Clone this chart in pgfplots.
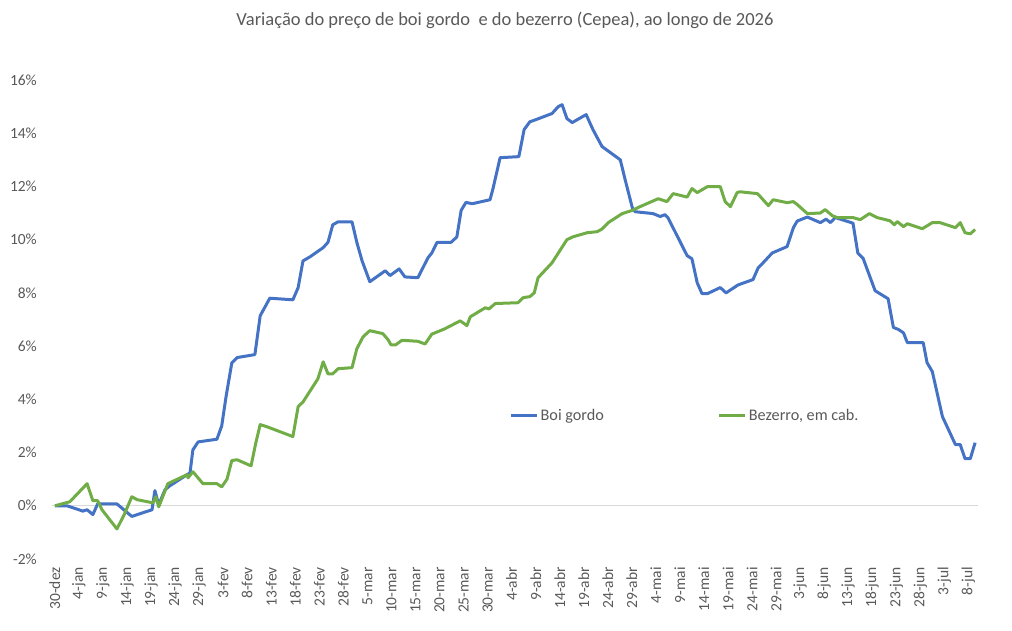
\documentclass[border=0pt]{standalone}
\usepackage{fontspec}
\setmainfont{Carlito}
\usepackage{pgfplots}
\pgfplotsset{compat=1.18}
\usepackage{pgfplotstable}

\definecolor{boiblue}{HTML}{4472C4}
\definecolor{bezgreen}{HTML}{70AD47}
\definecolor{txtgray}{HTML}{595959}
\definecolor{zerogray}{HTML}{D9D9D9}

% Day index counted from 30-dez; values in % change
\pgfplotstableread{
d val
0 0
2.5 0
5.8 -0.2
6.7 -0.15
7.9 -0.33
8.9 0.07
12.9 0.07
16.0 -0.4
20.2 -0.15
20.8 0.57
21.6 0.04
22.9 0.6
23.9 0.75
27.5 1.17
28.1 1.23
28.7 2.1
29.8 2.4
33.7 2.5
34.7 3.0
35.6 4.1
36.8 5.37
37.9 5.57
41.6 5.68
42.7 7.14
44.7 7.8
49.5 7.74
50.6 8.2
51.6 9.2
53.1 9.36
55.8 9.7
56.8 9.9
57.8 10.56
58.9 10.67
61.8 10.67
62.8 9.9
63.9 9.2
65.5 8.42
68.7 8.83
69.7 8.65
71.6 8.9
72.8 8.6
75.5 8.57
77.6 9.32
78.4 9.5
79.5 9.9
82.4 9.9
83.6 10.1
84.5 11.1
85.5 11.4
86.8 11.35
90.5 11.5
91.1 11.9
92.6 13.08
96.5 13.12
97.6 14.14
98.8 14.43
99.9 14.5
103.4 14.74
104.7 15.0
105.5 15.07
106.5 14.55
107.6 14.4
110.5 14.7
111.9 14.14
113.8 13.5
117.6 13.0
118.6 12.26
120.1 11.2
120.7 11.05
124.4 10.98
125.9 10.87
126.9 10.94
127.5 10.83
131.5 9.4
132.5 9.28
133.6 8.38
134.6 7.97
135.7 7.97
138.4 8.2
139.6 8.0
142.1 8.3
145.2 8.5
146.3 8.95
147.3 9.13
149.2 9.5
152.3 9.74
153.6 10.45
154.4 10.7
156.5 10.85
159.2 10.64
160.4 10.77
161.3 10.64
162.3 10.83
166.0 10.62
167.0 9.5
168.1 9.3
170.6 8.08
173.3 7.78
174.4 6.7
175.4 6.63
176.5 6.5
177.3 6.13
180.6 6.13
181.4 5.38
182.5 5.04
184.6 3.35
187.3 2.3
188.3 2.3
189.3 1.77
190.4 1.77
191.4 2.37
}\boigordo

\pgfplotstableread{
d val
0 0
3.1 0.15
6.7 0.83
7.9 0.19
8.9 0.19
9.8 -0.15
12.9 -0.87
14.4 -0.34
16.0 0.34
17.1 0.23
20.4 0.11
21.0 0.34
21.6 -0.04
23.5 0.83
27.5 1.17
27.7 1.05
28.7 1.28
30.8 0.83
33.7 0.83
34.7 0.71
35.8 1.0
36.8 1.7
37.9 1.73
40.8 1.5
41.8 2.37
42.7 3.05
44.1 2.97
49.5 2.6
50.6 3.73
51.6 3.9
54.7 4.77
55.8 5.41
56.8 4.96
57.8 4.96
58.9 5.15
61.8 5.19
62.8 5.9
64.1 6.35
65.5 6.58
68.2 6.47
69.3 6.24
69.9 6.05
70.9 6.05
72.2 6.22
75.5 6.18
77.0 6.08
78.4 6.45
81.1 6.65
84.3 6.95
85.7 6.77
86.4 7.1
89.5 7.44
90.3 7.4
91.6 7.6
96.3 7.63
97.4 7.82
98.8 7.86
99.7 8.0
100.5 8.57
103.4 9.13
106.5 10.0
107.8 10.11
110.7 10.26
112.8 10.3
113.8 10.4
115.1 10.64
118.0 10.98
120.1 11.1
121.7 11.24
125.5 11.54
127.3 11.43
128.6 11.73
131.5 11.6
132.5 11.92
133.6 11.77
135.7 11.99
138.4 11.99
139.4 11.43
140.5 11.24
141.9 11.77
142.5 11.8
146.1 11.73
146.7 11.62
148.4 11.28
149.4 11.5
152.3 11.39
153.6 11.43
154.4 11.32
156.5 10.98
159.2 11.0
160.2 11.13
161.7 10.9
162.7 10.83
166.0 10.83
167.5 10.75
169.4 10.98
171.0 10.83
173.7 10.71
174.6 10.56
175.2 10.68
176.5 10.49
177.3 10.6
180.4 10.41
182.5 10.64
184.1 10.64
187.3 10.45
188.3 10.64
189.3 10.26
190.4 10.22
191.4 10.38
}\bezerro

\begin{document}
\begin{tikzpicture}
\useasboundingbox (0,0) rectangle (1012pt,631pt);
\node[text=txtgray, font=\fontsize{18.5}{22}\selectfont] at (505pt,611pt)
  {Variação do preço de boi gordo\ \ e do bezerro (Cepea), ao longo de 2026};
\begin{axis}[
  at={(52pt,72pt)}, anchor=south west,
  scale only axis,
  width=926pt, height=479pt,
  xmin=-0.6, xmax=192,
  ymin=-2, ymax=16,
  axis line style={draw=none},
  tick style={draw=none},
  ytick={-2,0,...,16},
  yticklabels={-2\%,0\%,2\%,4\%,6\%,8\%,10\%,12\%,14\%,16\%},
  xtick={0,5,...,190},
  xticklabels={30-dez,4-jan,9-jan,14-jan,19-jan,24-jan,29-jan,3-fev,8-fev,13-fev,18-fev,23-fev,28-fev,5-mar,10-mar,15-mar,20-mar,25-mar,30-mar,4-abr,9-abr,14-abr,19-abr,24-abr,29-abr,4-mai,9-mai,14-mai,19-mai,24-mai,29-mai,3-jun,8-jun,13-jun,18-jun,23-jun,28-jun,3-jul,8-jul},
  tick label style={text=txtgray, font=\fontsize{15.5}{18}\selectfont, inner sep=0pt},
  yticklabel style={anchor=east},
  xticklabel style={rotate=90, anchor=east},
  yticklabel shift=15pt,
  xticklabel shift=8pt,
  extra y ticks={0},
  extra y tick labels={},
  extra y tick style={grid=major, major grid style={zerogray, line width=1.3pt}},
  legend columns=2,
  legend style={at={(0.494,0.30)}, anchor=west, draw=none, fill=none,
    font=\fontsize{16.2}{19}\selectfont, text=txtgray, inner sep=0pt,
    /tikz/every even column/.append style={column sep=112pt}},
  legend image code/.code={\draw[#1, line width=3pt] (0pt,0pt) -- (26pt,0pt);},
]
\addplot[boiblue, line width=3pt, line join=round] table[x=d, y=val] {\boigordo};
\addlegendentry{Boi gordo}
\addplot[bezgreen, line width=3pt, line join=round] table[x=d, y=val] {\bezerro};
\addlegendentry{Bezerro, em cab.}
\end{axis}
\end{tikzpicture}
\end{document}
